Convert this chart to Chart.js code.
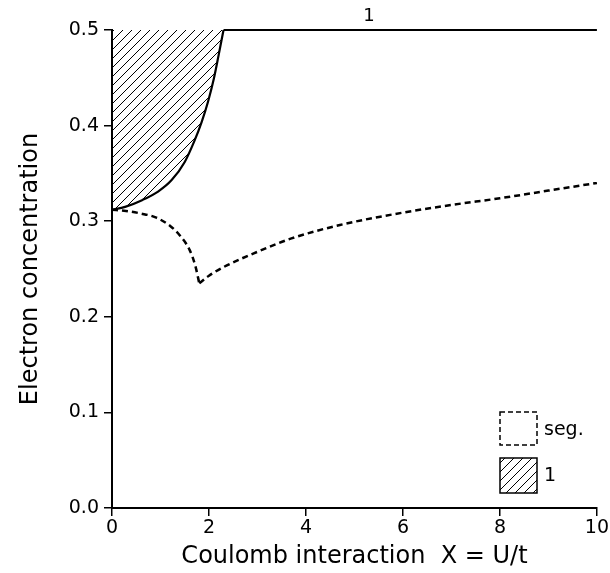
<!DOCTYPE html>
<html>
<head>
<meta charset="utf-8">
<script src="https://cdn.jsdelivr.net/npm/chart.js@4"></script>
<style>
  html, body { margin: 0; padding: 0; background: #fff; }
  #wrap { width: 610px; height: 573px; }
</style>
</head>
<body>
<div id="wrap"><canvas id="chart" width="610" height="573"></canvas></div>
<script>
// phase boundary of region "1" (solid)
const solidX = [0, 0.27, 0.62, 0.95, 1.23, 1.5, 1.7, 1.85, 1.98, 2.1, 2.2, 2.3];
const solidY = [0.312, 0.315, 0.322, 0.331, 0.343, 0.362, 0.384, 0.404, 0.425, 0.449, 0.474, 0.5];

// segregation boundary (dashed), two branches meeting at the cusp
const segLeftX = [0, 0.25, 0.6, 0.9, 1.2, 1.4, 1.6, 1.72, 1.8];
const segLeftY = [0.312, 0.311, 0.308, 0.304, 0.295, 0.285, 0.270, 0.253, 0.235];
const segRightX = [1.8, 2.0, 2.3, 3.0, 3.7, 4.7, 6, 7, 8, 9, 10];
const segRightY = [0.235, 0.243, 0.252, 0.268, 0.282, 0.296, 0.309, 0.317, 0.324, 0.332, 0.340];

// upper line, n = 0.5
const topX = [2.3, 10];
const topY = [0.5, 0.5];

const xTicks = [0, 2, 4, 6, 8, 10];
const yTicks = [0.0, 0.1, 0.2, 0.3, 0.4, 0.5];

function toPoints(xs, ys) {
    return xs.map((x, i) => ({ x: x, y: ys[i] }));
}

function makeHatch() {
    const c = document.createElement("canvas");
    c.width = 9;
    c.height = 9;
    const g = c.getContext("2d");
    g.strokeStyle = "#000";
    g.lineWidth = 1;
    g.beginPath();
    g.moveTo(0, 9); g.lineTo(9, 0);
    g.moveTo(-1, 1); g.lineTo(1, -1);
    g.moveTo(8, 10); g.lineTo(10, 8);
    g.stroke();
    return g.createPattern(c, "repeat");
}

document.addEventListener("DOMContentLoaded", () => {
    const ctx = document.getElementById("chart").getContext("2d");
    const hatch = makeHatch();
    const font = "'DejaVu Sans', sans-serif";

    const extras = {
        id: "extras",
        afterDatasetsDraw(chart) {
            const g = chart.ctx;
            const xs = chart.scales.x;
            const ys = chart.scales.y;
            g.save();
            g.fillStyle = "#000";
            g.font = "18px " + font;
            g.textAlign = "center";
            g.textBaseline = "middle";
            g.fillText("1", xs.getPixelForValue(5.3), ys.getPixelForValue(0.5) - 14);

            // legend
            g.lineWidth = 1.5;
            g.strokeStyle = "#000";
            g.setLineDash([5, 3]);
            g.strokeRect(500, 412, 37, 33);
            g.setLineDash([]);
            g.fillStyle = hatch;
            g.fillRect(500, 458, 37, 35);
            g.strokeRect(500, 458, 37, 35);
            g.fillStyle = "#000";
            g.font = "19px " + font;
            g.textAlign = "left";
            g.fillText("seg.", 544, 430);
            g.fillText("1", 544, 476);
            g.restore();
        }
    };

    const segStyle = {
        showLine: true,
        borderColor: "#000",
        borderWidth: 2.5,
        borderDash: [6, 4],
        fill: false,
        pointRadius: 0,
        cubicInterpolationMode: "monotone"
    };

    new Chart(ctx, {
        type: "scatter",
        data: {
            datasets: [
                {
                    label: "1",
                    data: toPoints(solidX, solidY),
                    showLine: true,
                    borderColor: "#000",
                    borderWidth: 2.2,
                    backgroundColor: hatch,
                    fill: "end",
                    pointRadius: 0,
                    cubicInterpolationMode: "monotone"
                },
                Object.assign({ label: "seg.", data: toPoints(segLeftX, segLeftY) }, segStyle),
                Object.assign({ label: "seg. b", data: toPoints(segRightX, segRightY) }, segStyle),
                {
                    label: "top",
                    data: toPoints(topX, topY),
                    showLine: true,
                    borderColor: "#000",
                    borderWidth: 2,
                    fill: false,
                    pointRadius: 0,
                    clip: false
                }
            ]
        },
        options: {
            responsive: false,
            animation: false,
            layout: { padding: { left: 0, right: 12, top: 30, bottom: 0 } },
            plugins: {
                legend: { display: false },
                tooltip: { enabled: false }
            },
            scales: {
                x: {
                    type: "linear",
                    min: 0,
                    max: 10,
                    afterBuildTicks: (s) => { s.ticks = xTicks.map(v => ({ value: v })); },
                    afterFit: (s) => { s.height = 65; },
                    grid: { drawOnChartArea: false, drawTicks: true, tickLength: 8, color: "#000", lineWidth: 1.5 },
                    border: { display: true, color: "#000", width: 2 },
                    ticks: { color: "#000", font: { size: 19, family: font }, padding: 1 },
                    title: {
                        display: true,
                        text: "Coulomb interaction  X = U/t",
                        color: "#000",
                        font: { size: 24, family: font },
                        padding: { top: 0, bottom: 2 }
                    }
                },
                y: {
                    type: "linear",
                    min: 0,
                    max: 0.5,
                    afterBuildTicks: (s) => { s.ticks = yTicks.map(v => ({ value: v })); },
                    afterFit: (s) => { s.width = 112; },
                    grid: { drawOnChartArea: false, drawTicks: true, tickLength: 8, color: "#000", lineWidth: 1.5 },
                    border: { display: true, color: "#000", width: 2 },
                    ticks: {
                        color: "#000",
                        font: { size: 19, family: font },
                        padding: 5,
                        callback: (v) => Number(v).toFixed(1)
                    },
                    title: {
                        display: true,
                        text: "Electron concentration",
                        color: "#000",
                        font: { size: 24, family: font },
                        padding: { top: 16, bottom: 0 }
                    }
                }
            }
        },
        plugins: [extras]
    });
});
</script>
</body>
</html>
